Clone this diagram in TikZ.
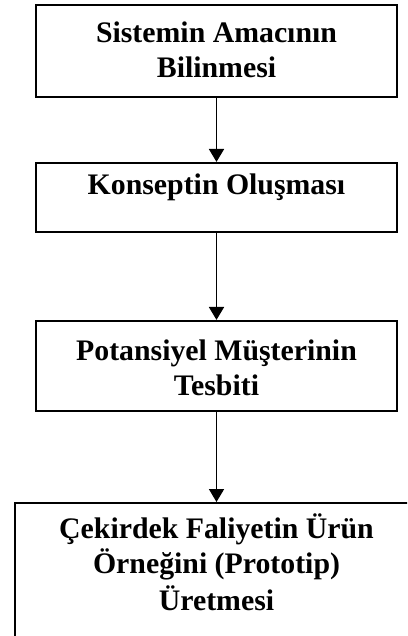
\documentclass[tikz,border=0pt]{standalone}
\usepackage{fontspec}
\setmainfont{Liberation Serif}
\usetikzlibrary{arrows.meta}
\tikzset{
  stepbox/.style={draw, line width=2.1pt, inner sep=0pt},
  steptext/.style={font=\bfseries\fontsize{29.8}{35.5}\selectfont, align=center, inner sep=0pt},
  flow/.style={line width=1.8pt, -{Triangle[width=15pt,length=13pt]}}
}
\begin{document}
\begin{tikzpicture}[x=1pt,y=-1pt]
\useasboundingbox (0,0) rectangle (407,636);
\clip (0,0) rectangle (407,636);
% process boxes
\node[stepbox, minimum width=361pt, minimum height=92pt] (b1) at (216.5,51) {};
\node[stepbox, minimum width=361pt, minimum height=69pt] (b2) at (216.5,197.5) {};
\node[stepbox, minimum width=361pt, minimum height=90pt] (b3) at (216.5,366) {};
\node[stepbox, minimum width=406pt, minimum height=160pt, anchor=north west] (b4) at (14,502) {};
% labels
\node[steptext, anchor=base] (t1) at (216.5,43) {Sistemin Amacının};
\node[steptext, anchor=base] (t1b) at (216.5,78) {Bilinmesi};
\node[steptext, anchor=base] (t2) at (216.5,195) {Konseptin Oluşması};
\node[steptext, anchor=base] (t3) at (216.5,360) {Potansiyel Müşterinin};
\node[steptext, anchor=base] (t3b) at (216.5,395) {Tesbiti};
\node[steptext, anchor=base] (t4) at (216.5,538) {Çekirdek Faliyetin Ürün};
\node[steptext, anchor=base] (t4b) at (216.5,573) {Örneğini (Prototip)};
\node[steptext, anchor=base] (t4c) at (216.5,610) {Üretmesi};
% connectors
\draw[flow] (b1.south) -- (b2.north);
\draw[flow] (b2.south) -- (b3.north);
\draw[flow] (b3.south) -- (b4.north -| b3.south);
\end{tikzpicture}
\end{document}
